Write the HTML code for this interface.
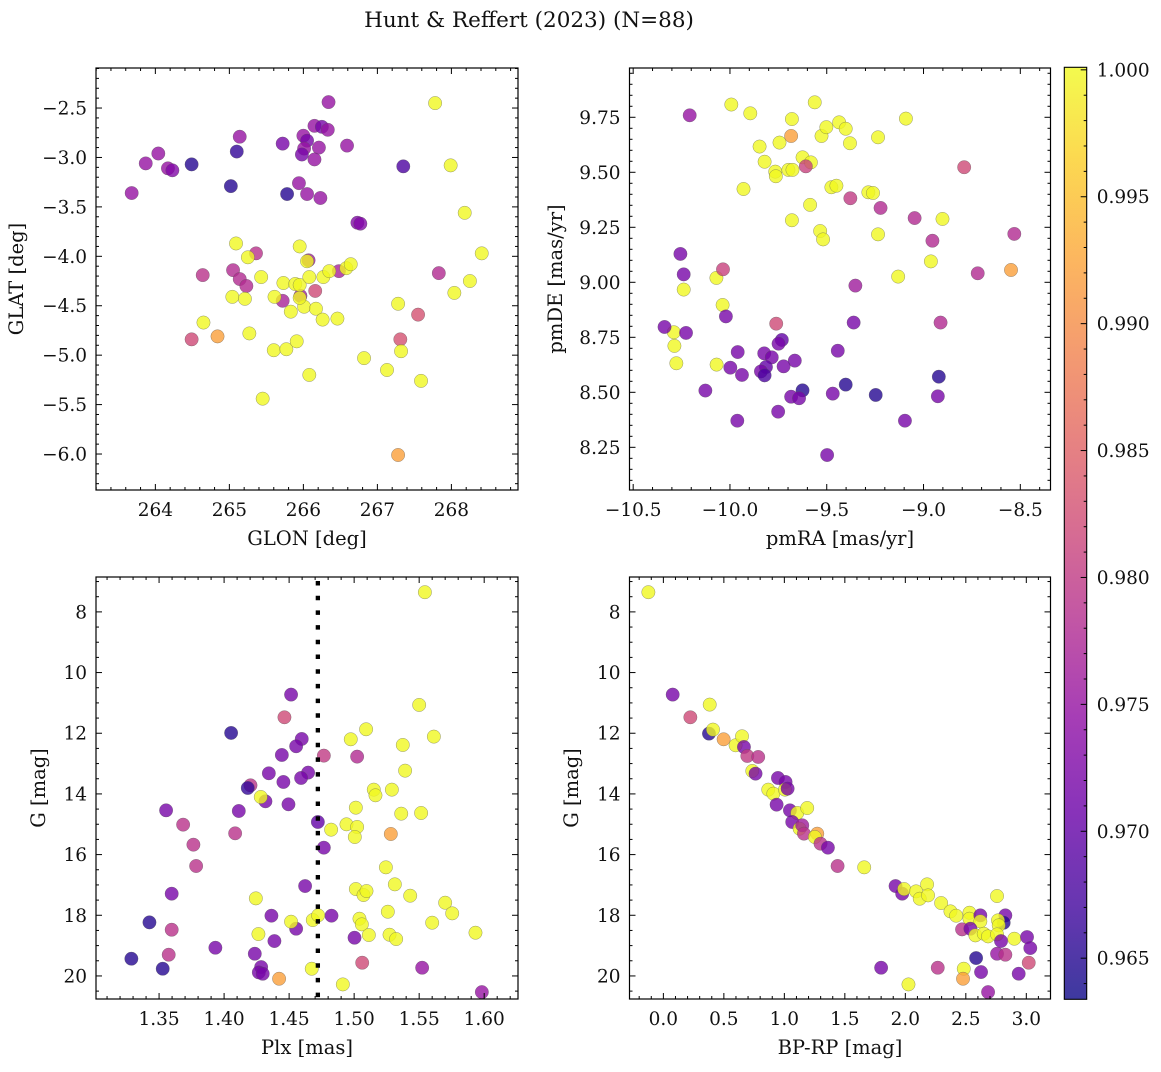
<!DOCTYPE html>
<html><head><meta charset="utf-8">
<style>
html,body{margin:0;padding:0;background:#fff;}
svg text{font-family:"DejaVu Serif","Liberation Serif",serif;fill:#111;}
</style></head>
<body>
<svg id="fig" width="1161" height="1067" viewBox="0 0 1161 1067" xmlns="http://www.w3.org/2000/svg">
<text x="529" y="27" font-size="21.5" text-anchor="middle">Hunt &amp; Reffert (2023) (N=88)</text>
</svg>
<script>
// ---------- Panel 1: GLON vs GLAT ----------
const glon = [266.34,265.14,265.10,265.72,266.00,266.05,266.15,266.25,266.33,266.21,266.01,265.98,266.15,266.59,264.04,263.87,264.17,264.23,264.49,263.68,265.02,265.78,265.94,266.05,266.23,267.35,266.73,266.77,
265.36,264.64,265.05,265.14,265.23,264.49,264.84,265.72,265.96,266.16,266.07,266.48,267.83,267.55,267.31,267.28,
265.09,265.25,265.43,265.04,265.21,265.95,266.05,265.73,265.89,265.95,266.08,266.27,266.35,266.58,266.64,265.61,265.83,266.01,265.95,266.17,266.26,266.46,264.65,265.27,265.60,265.77,265.91,266.08,265.45,267.28,267.32,266.82,267.13,267.59,267.78,267.99,268.18,268.41,268.25,268.04];
const glat = [-2.44,-2.79,-2.94,-2.86,-2.78,-2.83,-2.68,-2.69,-2.72,-2.90,-2.91,-2.97,-3.02,-2.88,-2.96,-3.06,-3.11,-3.13,-3.07,-3.36,-3.29,-3.37,-3.26,-3.37,-3.41,-3.09,-3.66,-3.67,
-3.97,-4.19,-4.14,-4.23,-4.30,-4.84,-4.81,-4.45,-4.40,-4.35,-4.04,-4.15,-4.17,-4.59,-4.84,-6.01,
-3.87,-4.01,-4.21,-4.41,-4.43,-3.90,-4.05,-4.27,-4.28,-4.29,-4.21,-4.21,-4.15,-4.12,-4.08,-4.41,-4.56,-4.51,-4.42,-4.53,-4.64,-4.63,-4.67,-4.78,-4.95,-4.94,-4.86,-5.20,-5.44,-4.48,-4.96,-5.03,-5.15,-5.26,-2.45,-3.08,-3.56,-3.97,-4.25,-4.37];
const prob1 = [.975,.975,.966,.972,.975,.972,.975,.972,.975,.975,.975,.972,.975,.975,.975,.975,.975,.973,.965,.975,.965,.965,.975,.975,.975,.968,.973,.973,
.979,.979,.978,.978,.978,.982,.992,.977,.976,.982,.976,.977,.978,.983,.983,.992,
1,1,1,1,1,1,1,1,1,1,1,1,1,1,1,1,1,1,1,1,1,1,1,1,1,1,1,1,1,1,1,1,1,1,1,1,1,1,1,1];

// ---------- Panel 2: pmRA vs pmDE ----------
const pmra = [-9.993,-9.895,-9.680,-9.562,-9.744,-9.847,-9.821,-9.766,-9.763,-9.698,-9.677,-9.625,-9.582,-9.527,-9.502,-9.436,-9.402,-9.380,-9.235,-9.091,-9.930,-9.586,-9.680,-9.534,-9.519,-9.476,-9.450,-9.285,-9.261,-9.235,-8.902,-8.962,-9.131,-10.070,-10.038,-10.239,-10.290,-10.287,-10.277,-10.069,
-10.208,-9.684,-9.608,-8.790,-9.378,-9.222,-9.046,-8.954,-8.531,-10.256,-10.239,-10.036,-8.720,-8.548,-9.352,-10.021,-10.338,-10.227,-9.761,-9.361,-8.912,-9.732,-9.749,-9.960,-9.823,-9.784,-9.665,-9.443,-9.998,-9.938,-9.814,-9.840,-9.821,-9.723,-10.127,-9.625,-9.684,-9.643,-9.469,-9.402,-9.247,-8.921,-8.926,-9.751,-9.962,-9.096,-9.498];
const pmde = [9.808,9.768,9.742,9.818,9.635,9.617,9.548,9.503,9.482,9.511,9.511,9.568,9.545,9.665,9.705,9.727,9.698,9.632,9.659,9.744,9.424,9.352,9.282,9.233,9.195,9.432,9.439,9.409,9.406,9.218,9.288,9.095,9.026,9.020,8.897,8.967,8.773,8.711,8.632,8.626,
9.759,9.665,9.527,9.523,9.382,9.338,9.292,9.189,9.220,9.129,9.036,9.059,9.041,9.056,8.985,8.845,8.797,8.770,8.812,8.817,8.817,8.738,8.721,8.683,8.677,8.659,8.644,8.689,8.612,8.579,8.615,8.595,8.577,8.618,8.508,8.509,8.480,8.473,8.494,8.535,8.488,8.571,8.482,8.412,8.371,8.371,8.215];
const prob2 = [1,1,1,1,1,1,1,1,1,1,1,1,1,1,1,1,1,1,1,1,1,1,1,1,1,1,1,1,1,1,1,1,1,1,1,1,1,1,1,1,
.975,.992,.981,.982,.980,.978,.978,.978,.978,.972,.972,.981,.978,.992,.976,.972,.972,.972,.982,.972,.978,.970,.972,.972,.972,.972,.972,.972,.972,.972,.970,.972,.968,.972,.972,.965,.972,.972,.972,.965,.965,.965,.972,.972,.972,.972,.972];

// ---------- Panel 3: Plx vs G ----------
const plx = [1.5544,1.4515,1.4464,1.4054,1.4597,1.4554,1.4444,1.4767,1.5023,1.4344,1.4646,1.4592,1.4456,1.4203,1.4182,1.4318,1.4495,1.3554,1.4113,1.3685,1.4085,1.4721,1.4767,1.3764,1.3785,1.3597,1.4623,1.3426,1.3597,1.4364,1.4554,1.4387,1.4826,1.5003,1.3933,1.4236,1.3574,1.3287,1.3528,1.4285,1.4267,1.4297,1.4423,1.5062,1.5523,1.5982,1.5282,
1.5500,1.5092,1.4974,1.5613,1.5374,1.5392,1.5151,1.5164,1.5290,1.5013,1.5362,1.5515,1.4941,1.5023,1.5005,1.4823,1.4282,1.5244,1.5013,1.5072,1.5095,1.5313,1.5431,1.4244,1.5700,1.5754,1.5259,1.5041,1.5059,1.5600,1.4515,1.4682,1.4723,1.4264,1.5113,1.5272,1.5323,1.5933,1.4674,1.4913];
const gmag3 = [7.351,10.726,11.474,11.990,12.188,12.430,12.716,12.738,12.771,13.320,13.298,13.474,13.606,13.716,13.804,14.244,14.343,14.541,14.563,15.013,15.299,14.925,15.772,15.673,16.376,17.289,17.036,18.234,18.476,18.014,18.443,18.850,18.014,18.740,19.070,19.268,19.300,19.432,19.762,19.707,19.883,19.927,20.092,19.564,19.729,20.532,15.321,
11.067,11.869,12.199,12.111,12.386,13.233,13.859,14.046,13.859,14.453,14.651,14.629,15.002,15.090,15.420,15.178,14.101,16.420,17.135,17.333,17.201,16.981,17.355,17.443,17.586,17.937,17.883,18.113,18.300,18.245,18.212,18.157,18.003,18.619,18.652,18.641,18.784,18.575,19.762,20.279];
const prob3 = [1,.972,.982,.965,.972,.972,.972,.980,.978,.972,.972,.972,.972,.979,.966,.972,.972,.972,.972,.979,.979,.970,.972,.979,.979,.972,.972,.965,.979,.972,.972,.972,.972,.972,.972,.972,.979,.965,.965,.972,.972,.972,.992,.982,.975,.975,.992,
1,1,1,1,1,1,1,1,1,1,1,1,1,1,1,1,1,1,1,1,1,1,1,1,1,1,1,1,1,1,1,1,1,1,1,1,1,1,1,1];
const plxLine = 1.4721;

// ---------- Panel 4: BP-RP vs G ----------
const bprp = [-0.124,0.077,0.223,0.383,0.377,0.410,0.498,0.597,0.650,0.666,0.694,0.784,0.735,0.762,0.947,1.010,0.867,0.909,1.005,1.027,0.936,1.046,1.107,1.189,1.065,1.126,1.148,1.162,1.272,1.252,1.299,1.360,1.440,1.660,1.919,1.974,1.990,2.089,2.119,2.180,2.188,2.296,2.373,2.420,2.530,2.530,2.620,2.620,2.469,2.538,2.579,2.648,2.684,2.758,2.827,2.813,2.766,2.772,2.758,2.791,2.758,2.827,2.901,3.006,3.033,3.020,2.937,2.585,2.626,2.483,2.477,2.268,1.800,2.026,2.684];
const gmag4 = [7.351,10.726,11.474,11.056,12.012,11.880,12.199,12.397,12.100,12.452,12.749,12.782,13.244,13.332,13.474,13.606,13.859,13.991,13.859,13.826,14.354,14.541,14.629,14.464,14.925,15.145,15.035,15.310,15.310,15.420,15.640,15.772,16.376,16.420,17.036,17.289,17.135,17.212,17.454,16.981,17.344,17.597,17.872,18.014,17.916,18.113,18.003,18.201,18.465,18.443,18.663,18.608,18.696,17.366,18.003,18.245,18.168,18.333,18.630,18.850,19.268,19.300,18.773,18.718,19.081,19.564,19.927,19.410,19.872,19.762,20.092,19.729,19.729,20.279,20.532];
const prob4 = [1,.972,.982,1,.965,1,.992,1,1,.972,.980,.979,1,.972,.972,.972,1,1,1,.972,.972,.972,1,1,.972,1,.976,.979,.992,1,.979,.972,.979,1,.972,.972,1,1,1,1,1,1,1,1,1,1,.972,1,.979,.972,1,1,1,1,.972,.965,1,1,1,.972,.975,.979,1,.972,.972,.982,.972,.965,.972,1,.992,.979,.972,1,.975];

// ---------- colorbar ----------
const cbTicks = [0.965,0.970,0.975,0.980,0.985,0.990,0.995,1.000];
const cbMin = 0.96338, cbMax = 1.0001;

const NS = "http://www.w3.org/2000/svg";
const svg = document.getElementById('fig');
const plasma = [[13,8,135],[65,4,157],[106,0,168],[143,13,164],[177,42,144],[204,71,120],[225,100,98],[242,132,75],[252,166,54],[252,206,37],[240,249,33]];
function cmap(v){
  let t = (v-cbMin)/(cbMax-cbMin); t=Math.max(0,Math.min(1,t));
  const f=t*10, i=Math.min(9,Math.floor(f)), r=f-i;
  const a=plasma[i], b=plasma[i+1];
  return 'rgb('+a.map((c,k)=>Math.round(c+(b[k]-c)*r)).join(',')+')';
}
function mk(tag, attrs, parent){
  const e=document.createElementNS(NS,tag);
  for(const k in attrs) e.setAttribute(k,attrs[k]);
  (parent||svg).appendChild(e); return e;
}
function fmt(v,d){ const s=v.toFixed(d); return s.replace('-','\u2212'); }
const TFS = 18.5, LFS = 19.5;

function panel(cfg){
  const g = mk('g',{});
  
  
  const {L,R,T,B} = cfg;
  const sx = v => L + (v-cfg.x0)/(cfg.x1-cfg.x0)*(R-L);
  const sy = v => cfg.yinv ? T + (v-cfg.y0)/(cfg.y1-cfg.y0)*(B-T) : B - (v-cfg.y0)/(cfg.y1-cfg.y0)*(B-T);
  const pg = mk('g',{},g);
  
  
  const clip = mk('clipPath',{id:cfg.name+'-clip'},g);
  mk('rect',{x:L,y:T,width:R-L,height:B-T},clip);
  pg.setAttribute('clip-path','url(#'+cfg.name+'-clip)');
  for(let i=0;i<cfg.xs.length;i++){
    const c = mk('circle',{cx:sx(cfg.xs[i]),cy:sy(cfg.ys[i]),r:6.7,fill:cmap(cfg.ps[i]),'fill-opacity':0.8,stroke:'#555','stroke-opacity':0.6,'stroke-width':0.5},pg);
    
    
  }
  if(cfg.vline!==undefined){
    const ln = mk('line',{x1:sx(cfg.vline),x2:sx(cfg.vline),y1:T+4,y2:B,stroke:'#000','stroke-width':4.3,'stroke-dasharray':'4.5,10.2'},g);
    
    
  }
  const fr = mk('rect',{x:L,y:T,width:R-L,height:B-T,fill:'none',stroke:'#000','stroke-width':1.2},g);
  
  
  const tg = mk('g',{stroke:'#000','stroke-width':1},g);
  const eps=1e-9;
  for(let v=Math.ceil(cfg.x0/cfg.xmin-eps)*cfg.xmin; v<=cfg.x1+eps; v+=cfg.xmin){
    const isMaj = Math.abs(v/cfg.xmaj - Math.round(v/cfg.xmaj))<1e-6;
    const len = isMaj?6:3, x=sx(v);
    mk('line',{x1:x,x2:x,y1:B,y2:B-len},tg);
    mk('line',{x1:x,x2:x,y1:T,y2:T+len},tg);
    if(isMaj){
      const t = mk('text',{x:x,y:B+26,'font-size':TFS,'text-anchor':'middle',stroke:'none'},g);
      t.textContent = fmt(Math.round(v/cfg.xmaj)*cfg.xmaj,cfg.xd);
      
      
    }
  }
  for(let v=Math.ceil(cfg.ylo/cfg.ymin-eps)*cfg.ymin; v<=cfg.yhi+eps; v+=cfg.ymin){
    const isMaj = Math.abs(v/cfg.ymaj - Math.round(v/cfg.ymaj))<1e-6;
    const len = isMaj?6:3, y=sy(v);
    mk('line',{x1:L,x2:L+len,y1:y,y2:y},tg);
    mk('line',{x1:R,x2:R-len,y1:y,y2:y},tg);
    if(isMaj){
      const t = mk('text',{x:L-9,y:y+6.5,'font-size':TFS,'text-anchor':'end',stroke:'none'},g);
      t.textContent = fmt(Math.round(v/cfg.ymaj)*cfg.ymaj,cfg.yd);
      
      
    }
  }
  const xt = mk('text',{x:(L+R)/2,y:B+55,'font-size':LFS,'text-anchor':'middle'},g);
  xt.textContent = cfg.xlabel;
  
  
  const yt = mk('text',{x:0,y:0,'font-size':LFS,'text-anchor':'middle',transform:'translate('+cfg.ylx+','+((T+B)/2)+') rotate(-90)'},g);
  yt.textContent = cfg.ylabel;
  
  
}

panel({name:'glon-glat-panel',L:96,R:518,T:68,B:490,x0:263.198,x1:268.90,y0:-6.364,y1:-2.095,ylo:-6.364,yhi:-2.095,
  xmaj:1,xmin:0.2,ymaj:0.5,ymin:0.1,xd:0,yd:1,xs:glon,ys:glat,ps:prob1,xlabel:'GLON [deg]',ylabel:'GLAT [deg]',ylx:23});
panel({name:'pm-panel',L:629.5,R:1050.5,T:68,B:490,x0:-10.519,x1:-8.344,y0:8.056,y1:9.974,ylo:8.056,yhi:9.974,
  xmaj:0.5,xmin:0.1,ymaj:0.25,ymin:0.05,xd:1,yd:2,xs:pmra,ys:pmde,ps:prob2,xlabel:'pmRA [mas/yr]',ylabel:'pmDE [mas/yr]',ylx:562});
panel({name:'plx-g-panel',L:96,R:518,T:577,B:999,x0:1.3015,x1:1.626,y0:6.85,y1:20.76,ylo:6.85,yhi:20.76,yinv:true,
  xmaj:0.05,xmin:0.01,ymaj:2,ymin:0.5,xd:2,yd:0,xs:plx,ys:gmag3,ps:prob3,vline:plxLine,xlabel:'Plx [mas]',ylabel:'G [mag]',ylx:45});
panel({name:'cmd-panel',L:629.5,R:1050.5,T:577,B:999,x0:-0.28,x1:3.20,y0:6.85,y1:20.76,ylo:6.85,yhi:20.76,yinv:true,
  xmaj:0.5,xmin:0.1,ymaj:2,ymin:0.5,xd:1,yd:0,xs:bprp,ys:gmag4,ps:prob4,xlabel:'BP-RP [mag]',ylabel:'G [mag]',ylx:578});

(function(){
  const L=1064.3,R=1086.7,T=67.3,B=999.3;
  const g = mk('g',{});
  
  
  const defs = mk('defs',{},g);
  const lg = mk('linearGradient',{id:'cbgrad',x1:0,y1:1,x2:0,y2:0},defs);
  for(let i=0;i<=20;i++){ const v=cbMin+(cbMax-cbMin)*i/20; mk('stop',{offset:(i/20),'stop-color':cmap(v)},lg); }
  const r = mk('rect',{x:L,y:T,width:R-L,height:B-T,fill:'url(#cbgrad)','fill-opacity':0.8},g);
  
  
  mk('rect',{x:L,y:T,width:R-L,height:B-T,fill:'none',stroke:'#000','stroke-width':1.1},g);
  const sy = v => B - (v-cbMin)/(cbMax-cbMin)*(B-T);
  for(let k=964;k<=1000;k++){
    const v=k/1000; if(v<cbMin||v>cbMax) continue;
    const isMaj = k%5===0, y=sy(v);
    mk('line',{x1:R,x2:R-(isMaj?6:3),y1:y,y2:y,stroke:'#000','stroke-width':1},g);
  }
  cbTicks.forEach(v=>{
    const t = mk('text',{x:R+10,y:sy(v)+6.5,'font-size':TFS},g);
    t.textContent = v.toFixed(3);
    
    
  });
})();
</script>
</body></html>
